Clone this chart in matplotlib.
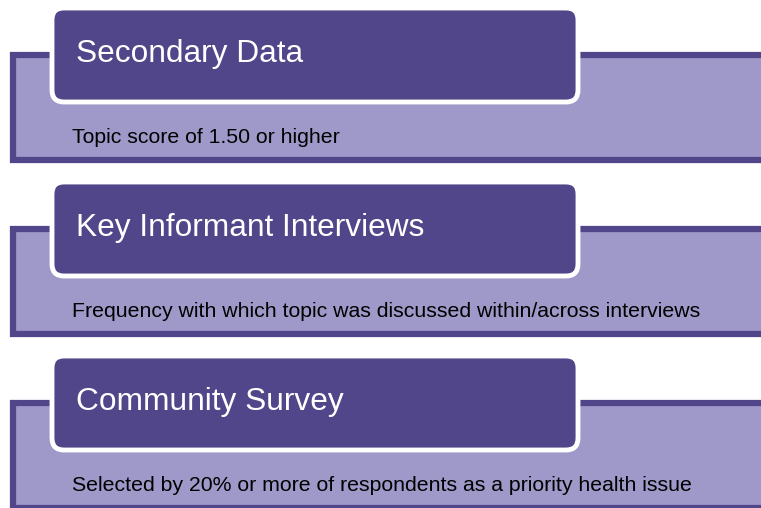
import matplotlib
matplotlib.use('Agg')
import matplotlib.pyplot as plt
from matplotlib.patches import Rectangle, FancyBboxPatch

plt.rcParams['font.family'] = ['Liberation Sans', 'DejaVu Sans']

# Isi diagram
titles = ['Secondary Data', 'Key Informant Interviews', 'Community Survey']
criteria = ['Topic score of 1.50 or higher',
            'Frequency with which topic was discussed within/across interviews',
            'Selected by 20% or more of respondents as a priority health issue']

dark = '#514689'
light = '#9e99c9'

W, H = 761, 508
fig = plt.figure(figsize=(W / 100, H / 100), dpi=100)
ax = fig.add_axes([0, 0, 1, 1])
ax.set_xlim(0, W)
ax.set_ylim(H, 0)
ax.axis('off')

step = 174
for i, (title, crit) in enumerate(zip(titles, criteria)):
    y0 = i * step
    # kotak terang dengan garis tepi gelap
    ax.add_patch(Rectangle((13, y0 + 55), 780, 105, facecolor=light,
                           edgecolor=dark, linewidth=4.5))
    # kotak judul gelap dengan sudut membulat
    ax.add_patch(FancyBboxPatch((61, y0 + 17), 508, 76,
                                boxstyle='round,pad=9,rounding_size=12',
                                facecolor=dark, edgecolor='white', linewidth=3.5))
    ax.text(76, y0 + 62, title, color='white', fontsize=22.8,
            va='baseline', ha='left')
    ax.text(72, y0 + 143, crit, color='black', fontsize=15.3,
            va='baseline', ha='left')

fig.savefig('out.png', dpi=100)
